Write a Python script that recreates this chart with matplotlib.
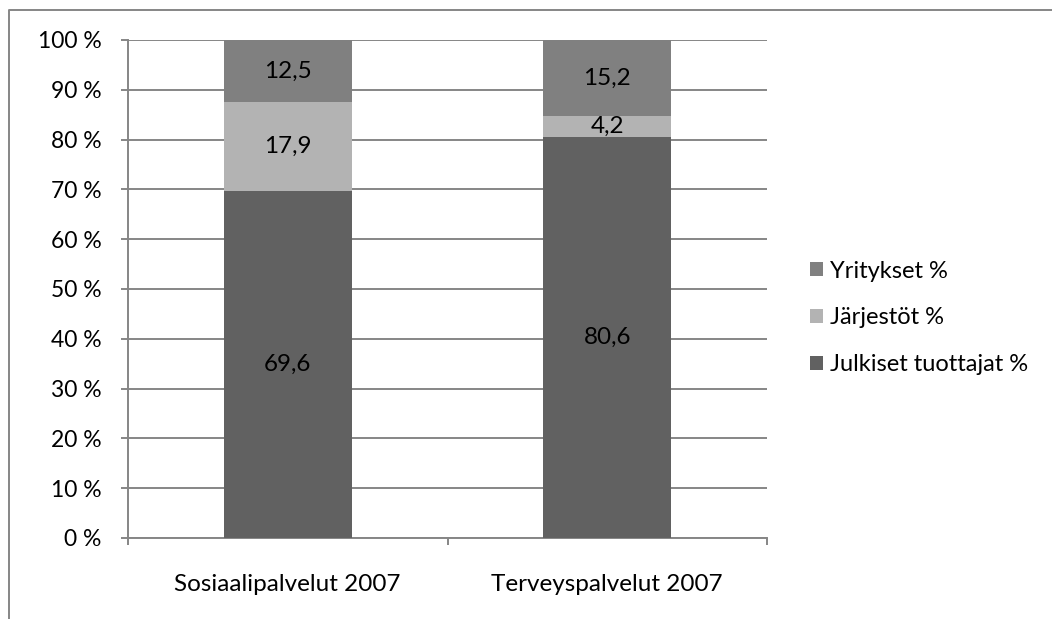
import matplotlib.pyplot as plt
from matplotlib.lines import Line2D
from matplotlib.ticker import FixedLocator
import numpy as np

plt.rcParams['font.family'] = ['Lato', 'DejaVu Sans']

categories = ['Sosiaalipalvelut 2007', 'Terveyspalvelut 2007']
julkiset = [69.6, 80.6]
jarjestot = [17.9, 4.2]
yritykset = [12.5, 15.2]
series_names = ['Julkiset tuottajat %', 'Järjestöt %', 'Yritykset %']
yticks = list(range(0, 101, 10))

colors = ['#616161', '#b3b3b3', '#808080']
grid_col = '#868686'

fig = plt.figure(figsize=(10.52, 6.19), dpi=100)
ax = fig.add_axes([128 / 1052, 81 / 619, 639 / 1052, 498 / 619])

x = np.arange(len(categories))
bottom = np.zeros(len(categories))
handles = []
for vals, name, col in zip([julkiset, jarjestot, yritykset], series_names, colors):
    bars = ax.bar(x, vals, width=0.4, bottom=bottom, color=col, label=name,
                  edgecolor='none', zorder=3)
    handles.append(bars)
    for xi, v, b in zip(x, vals, bottom):
        ax.text(xi, b + v / 2, f'{v:.1f}'.replace('.', ','), ha='center',
                va='center', fontsize=17.5, color='black', zorder=4)
    bottom += np.array(vals)

ax.set_xlim(-0.5, 1.5)
ax.set_ylim(0, 100)

# y axis: percent ticks with grid
ax.set_yticks(yticks)
ax.set_yticklabels([f'{t} %' for t in yticks], fontsize=16.5)
ax.yaxis.grid(True, color=grid_col, linewidth=1.4, zorder=0)
ax.tick_params(axis='y', direction='out', length=5, width=1.4, color=grid_col, pad=14)

# x axis: labels at bar centers, tick marks between categories
ax.set_xticks(x)
ax.set_xticklabels(categories, fontsize=17.5)
ax.tick_params(axis='x', which='major', length=0, pad=26)
ax.xaxis.set_minor_locator(FixedLocator([-0.5, 0.5, 1.5]))
ax.tick_params(axis='x', which='minor', direction='out', length=5, width=1.4, color=grid_col)

for side in ['top', 'right']:
    ax.spines[side].set_visible(False)
for side in ['left', 'bottom']:
    ax.spines[side].set_color(grid_col)
    ax.spines[side].set_linewidth(1.4)

leg = fig.legend(handles[::-1], series_names[::-1], loc='center left',
                 bbox_to_anchor=(789 / 1052, 1 - 318 / 619), frameon=False,
                 fontsize=17, handlelength=0.55, handleheight=0.55,
                 handletextpad=0.3, labelspacing=1.1)

# outer chart frame
fig.add_artist(Line2D([9 / 1052, 9 / 1052, 1.0], [0.0, 1 - 10 / 619, 1 - 10 / 619],
                      transform=fig.transFigure, color=grid_col, linewidth=1.4))

fig.savefig('out.png', dpi=100)
